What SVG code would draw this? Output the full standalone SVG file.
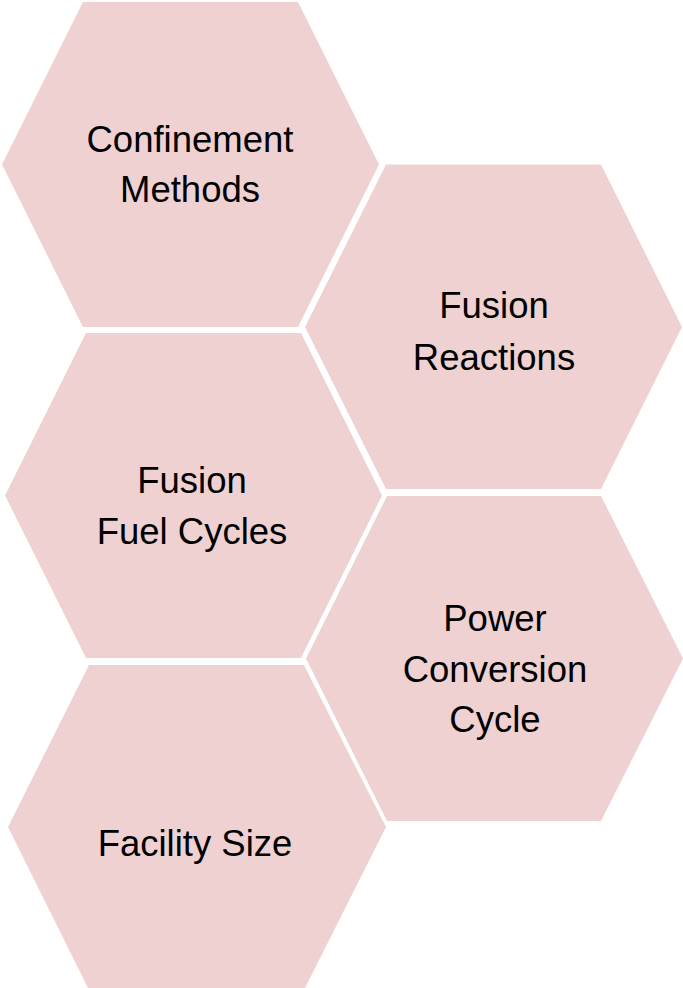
<svg xmlns="http://www.w3.org/2000/svg" width="683" height="988" viewBox="0 0 683 988">
<style>
.hex{fill:#EFD1D2;}
.lbl{font-family:"Liberation Sans",Arial,sans-serif;font-size:36.5px;fill:#000;text-anchor:middle;}
</style>
<rect width="683" height="988" fill="#fff"/>
<g id="confinement-methods">
<polygon class="hex" points="83,2 298,2 379,164.5 298,327 83,327 2,164.5"/>
<text class="lbl" x="190" y="152">Confinement</text>
<text class="lbl" x="190" y="202">Methods</text>
</g>
<g id="fusion-reactions">
<polygon class="hex" points="386,164.5 601,164.5 682,327 601,489 386,489 305,327"/>
<text class="lbl" x="494" y="318">Fusion</text>
<text class="lbl" x="494" y="370">Reactions</text>
</g>
<g id="fusion-fuel-cycles">
<polygon class="hex" points="86,333 301,333 382,495.5 301,658 86,658 5,495.5"/>
<text class="lbl" x="192" y="493">Fusion</text>
<text class="lbl" x="192" y="544">Fuel Cycles</text>
</g>
<g id="power-conversion-cycle">
<polygon class="hex" points="387,496 601,496 683,658.5 601,821 387,821 306,658.5"/>
<text class="lbl" x="495" y="631">Power</text>
<text class="lbl" x="495" y="682">Conversion</text>
<text class="lbl" x="495" y="732">Cycle</text>
</g>
<g id="facility-size">
<polygon class="hex" points="89,665 304,665 386,827 304,990 89,990 8,827"/>
<text class="lbl" x="195" y="856">Facility Size</text>
</g>
</svg>
